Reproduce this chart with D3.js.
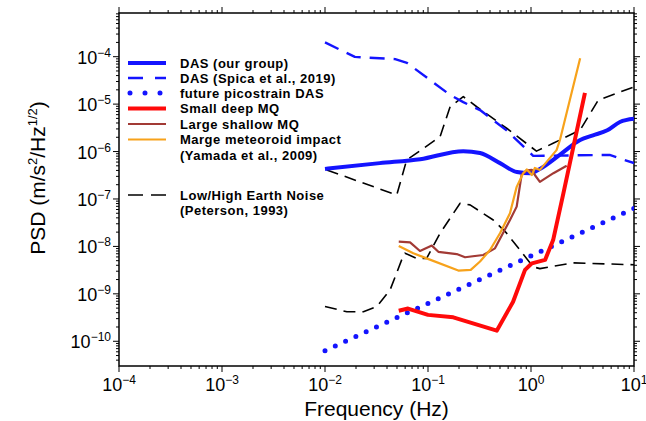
<!DOCTYPE html>
<html>
<head>
<meta charset="utf-8">
<script src="https://cdn.jsdelivr.net/npm/d3@7"></script>
<style>
  body { margin: 0; background: #fff; }
  text { font-family: "Liberation Sans", Arial, Helvetica, sans-serif; }
</style>
</head>
<body>
<script>
// ---- data (frequency in Hz, PSD in m/s^2/Hz^1/2) ----
const dasOurF = [0.01, 0.034, 0.084, 0.22, 0.32, 0.5, 0.73, 0.98, 1.22, 1.9, 3.0, 4.0, 5.5, 7.3, 10];
const dasOurP = [4.3e-7, 5.7e-7, 6.9e-7, 1.02e-6, 9.3e-7, 5.7e-7, 3.7e-7, 3.5e-7, 4.3e-7, 8.5e-7, 1.75e-6, 2.2e-6, 2.8e-6, 4.2e-6, 4.9e-6];

const spicaF = [0.01, 0.0195, 0.048, 0.0625, 0.164, 0.22, 0.32, 0.58, 1.05, 5.8, 10];
const spicaP = [2e-4, 9.9e-5, 8.9e-5, 7.4e-5, 1.56e-5, 1.1e-5, 7.5e-6, 2.8e-6, 8.1e-7, 8.5e-7, 5.7e-7];

const picoF = [0.01, 10];
const picoP = [6.3e-11, 6.3e-8];

const deepF = [0.052, 0.064, 0.10, 0.176, 0.465, 0.67, 0.875, 1.02, 1.37, 1.64, 2.06, 3.34];
const deepP = [4.4e-10, 4.9e-10, 3.6e-10, 3.2e-10, 1.67e-10, 6.8e-10, 3.2e-9, 4.4e-9, 5.2e-9, 1.36e-8, 1.3e-7, 1.72e-5];

const shallowF = [0.052, 0.067, 0.0836, 0.109, 0.126, 0.19, 0.229, 0.344, 0.447, 0.625, 0.726, 0.81, 0.91, 1.02, 1.09, 1.22, 1.65, 2.22];
const shallowP = [1.26e-8, 1.22e-8, 8e-9, 1.04e-8, 7.7e-9, 6.9e-9, 5.9e-9, 6.6e-9, 9.1e-9, 3.6e-8, 6.9e-8, 3.2e-7, 4e-7, 4.1e-7, 3.2e-7, 2.3e-7, 3.5e-7, 5e-7];

const impactF = [0.052, 0.072, 0.097, 0.197, 0.26, 0.32, 0.40, 0.50, 0.625, 0.726, 0.84, 0.91, 1.02, 1.09, 1.22, 1.77, 1.91, 3.0];
const impactP = [1.02e-8, 7.2e-9, 5.6e-9, 3.1e-9, 3.2e-9, 4.8e-9, 8.4e-9, 1.9e-8, 5e-8, 1.8e-7, 3.5e-7, 4.2e-7, 3.2e-7, 4.5e-7, 4.1e-7, 1.07e-6, 1.75e-6, 9.3e-5];

const highF = [0.0104, 0.0497, 0.062, 0.131, 0.164, 0.22, 0.297, 0.58, 1.13, 1.64, 3.0, 4.5, 10];
const highP = [4.1e-7, 1.21e-7, 6.6e-7, 2.06e-6, 8.8e-6, 1.44e-5, 8.8e-6, 3.1e-6, 1.02e-6, 1.49e-6, 2.85e-6, 1.22e-5, 2.3e-5];

const lowF = [0.01, 0.0163, 0.0236, 0.0318, 0.0428, 0.0555, 0.0598, 0.0777, 0.097, 0.131, 0.205, 0.256, 0.43, 0.58, 0.78, 1.05, 1.22, 2.58, 10];
const lowP = [5.4e-10, 4.2e-10, 4.2e-10, 5.4e-10, 1.2e-9, 5.2e-9, 7.2e-9, 5.6e-9, 5.6e-9, 1.9e-8, 8.1e-8, 7.5e-8, 3.6e-8, 1.9e-8, 8.4e-9, 3.7e-9, 3.4e-9, 4.5e-9, 4.1e-9];

const xTickExp = [-4, -3, -2, -1, 0, 1];
const yTickExp = [-10, -9, -8, -7, -6, -5, -4];

const legendLabels = [
  ["DAS (our group)"],
  ["DAS (Spica et al., 2019)"],
  ["future picostrain DAS"],
  ["Small deep MQ"],
  ["Large shallow MQ"],
  ["Marge meteoroid impact", "(Yamada et al., 2009)"],
  ["Low/High Earth Noise", "(Peterson, 1993)"]
];

// ---- layout ----
const W = 646, H = 421;
const L = 119, R = 634, T = 13, B = 366;

const svg = d3.select("body").append("svg").attr("width", W).attr("height", H);

const x = d3.scaleLog().domain([1e-4, 10]).range([L, R]);
const y = d3.scaleLog().domain([3.01e-11, 8.34e-4]).range([B, T]);

const zip = (f, p) => f.map((v, i) => [v, p[i]]);

// minor ticks
const minorX = [], minorY = [];
for (let e = -4; e < 1; e++) for (let k = 2; k <= 9; k++) minorX.push(k * Math.pow(10, e));
for (let e = -11; e < -3; e++) for (let k = 1; k <= 9; k++) {
  const v = k * Math.pow(10, e);
  if (v >= 3.01e-11 && v <= 8.34e-4 && k !== 1) minorY.push(v);
}

const ax = svg.append("g").attr("stroke", "#000").attr("stroke-width", 1);
minorX.forEach(v => {
  ax.append("line").attr("x1", x(v)).attr("x2", x(v)).attr("y1", B).attr("y2", B + 3);
  ax.append("line").attr("x1", x(v)).attr("x2", x(v)).attr("y1", T).attr("y2", T - 3);
});
xTickExp.forEach(e => {
  const v = Math.pow(10, e);
  ax.append("line").attr("x1", x(v)).attr("x2", x(v)).attr("y1", B).attr("y2", B + 6);
  ax.append("line").attr("x1", x(v)).attr("x2", x(v)).attr("y1", T).attr("y2", T - 6);
});
minorY.forEach(v => {
  ax.append("line").attr("x1", L).attr("x2", L - 3).attr("y1", y(v)).attr("y2", y(v));
  ax.append("line").attr("x1", R).attr("x2", R + 3).attr("y1", y(v)).attr("y2", y(v));
});
yTickExp.forEach(e => {
  const v = Math.pow(10, e);
  ax.append("line").attr("x1", L).attr("x2", L - 6).attr("y1", y(v)).attr("y2", y(v));
  ax.append("line").attr("x1", R).attr("x2", R + 6).attr("y1", y(v)).attr("y2", y(v));
});

svg.append("rect").attr("x", L).attr("y", T).attr("width", R - L).attr("height", B - T)
  .attr("fill", "none").attr("stroke", "#000").attr("stroke-width", 1.5);

// tick labels
const tickLab = (g, e) => {
  g.append("tspan").text("10");
  g.append("tspan").attr("dy", -7).attr("font-size", 12).text("\u2212".repeat(e < 0 ? 1 : 0) + Math.abs(e));
};
xTickExp.forEach(e => {
  const t = svg.append("text").attr("x", x(Math.pow(10, e))).attr("y", 391)
    .attr("text-anchor", "middle").attr("font-size", 18);
  tickLab(t, e);
});
yTickExp.forEach(e => {
  const t = svg.append("text").attr("x", 111).attr("y", y(Math.pow(10, e)) + 7)
    .attr("text-anchor", "end").attr("font-size", 18);
  tickLab(t, e);
});

// axis titles
svg.append("text").attr("x", (L + R) / 2).attr("y", 416).attr("text-anchor", "middle")
  .attr("font-size", 21).text("Frequency (Hz)");
const yt = svg.append("text").attr("transform", "translate(45,178) rotate(-90)")
  .attr("text-anchor", "middle").attr("font-size", 21);
yt.append("tspan").text("PSD (m/s");
yt.append("tspan").attr("dy", -8).attr("font-size", 13).text("2");
yt.append("tspan").attr("dy", 8).text("/Hz");
yt.append("tspan").attr("dy", -8).attr("font-size", 13).text("1/2");
yt.append("tspan").attr("dy", 8).text(")");

// series
svg.append("clipPath").attr("id", "clip").append("rect")
  .attr("x", L).attr("y", T).attr("width", R - L).attr("height", B - T);
const plot = svg.append("g").attr("clip-path", "url(#clip)");

const line = d3.line().x(d => x(d[0])).y(d => y(d[1]));
const smooth = d3.line().x(d => x(d[0])).y(d => y(d[1])).curve(d3.curveMonotoneX);

const series = [
  { d: zip(highF, highP), c: "#000", w: 1.6, dash: "12,7", gen: line },
  { d: zip(lowF, lowP), c: "#000", w: 1.6, dash: "12,7", gen: line },
  { d: zip(spicaF, spicaP), c: "#1414ff", w: 2.4, dash: "15,9", gen: line },
  { d: zip(dasOurF, dasOurP), c: "#1414ff", w: 4, dash: null, gen: smooth },
  { d: zip(picoF, picoP), c: "#1414ff", w: 5, dash: "0,11.33", gen: line, cap: "round" },
  { d: zip(shallowF, shallowP), c: "#a23a35", w: 2.2, dash: null, gen: line },
  { d: zip(impactF, impactP), c: "#f7a21b", w: 2.2, dash: null, gen: line },
  { d: zip(deepF, deepP), c: "#ff0a0a", w: 4, dash: null, gen: line }
];
series.forEach(s => {
  plot.append("path").attr("d", s.gen(s.d)).attr("fill", "none")
    .attr("stroke", s.c).attr("stroke-width", s.w)
    .attr("stroke-dasharray", s.dash).attr("stroke-linecap", s.cap || "butt")
    .attr("stroke-linejoin", "round");
});

// legend
const legStyles = [
  { c: "#1414ff", w: 4, dash: null },
  { c: "#1414ff", w: 2.4, dash: "15,12" },
  { c: "#1414ff", w: 5, dash: "0,15", cap: "round" },
  { c: "#ff0a0a", w: 4, dash: null },
  { c: "#a23a35", w: 2.2, dash: null },
  { c: "#f7a21b", w: 2.2, dash: null },
  { c: "#000", w: 1.6, dash: "15,8" }
];
const legY = [63, 78, 93, 108.5, 124, 139.5, 195];
const leg = svg.append("g");
legendLabels.forEach((lab, i) => {
  const s = legStyles[i];
  leg.append("line").attr("x1", s.cap ? 130 : 128).attr("x2", 166).attr("y1", legY[i]).attr("y2", legY[i])
    .attr("stroke", s.c).attr("stroke-width", s.w).attr("stroke-dasharray", s.dash)
    .attr("stroke-linecap", s.cap || "butt");
  lab.forEach((t, j) => {
    leg.append("text").attr("x", 180).attr("y", legY[i] + 4.5 + j * 15.5)
      .attr("font-size", 13).attr("font-weight", "bold").attr("letter-spacing", 0.5).text(t);
  });
});
</script>
</body>
</html>
